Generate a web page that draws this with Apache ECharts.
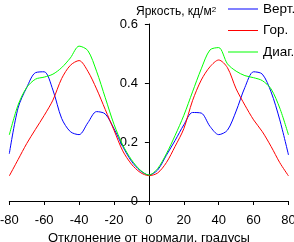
<!DOCTYPE html>
<html>
<head>
<meta charset="utf-8">
<script src="https://cdn.jsdelivr.net/npm/echarts@6/dist/echarts.min.js"></script>
<style>
html, body { margin: 0; padding: 0; background: #fff; }
#main { width: 294px; height: 242px; }
</style>
</head>
<body>
<div id="main"></div>
<script>
// угол отклонения, градусы
var angles = [-80, -75, -70, -65, -60, -55, -50, -45, -40, -35, -30, -25, -20, -15, -10, -5, 0,
              5, 10, 15, 20, 25, 30, 35, 40, 45, 50, 55, 60, 65, 70, 75, 80];

var vert = [0.16, 0.315, 0.385, 0.435, 0.438, 0.376, 0.28, 0.235, 0.225, 0.265, 0.303, 0.295, 0.245, 0.185, 0.135, 0.103, 0.088,
            0.105, 0.155, 0.205, 0.258, 0.3, 0.298, 0.253, 0.225, 0.24, 0.305, 0.385, 0.438, 0.43, 0.37, 0.275, 0.156];

var hor = [0.085, 0.14, 0.195, 0.243, 0.29, 0.342, 0.415, 0.46, 0.476, 0.44, 0.38, 0.31, 0.24, 0.17, 0.125, 0.097, 0.086,
           0.095, 0.13, 0.185, 0.245, 0.34, 0.41, 0.455, 0.478, 0.452, 0.38, 0.325, 0.275, 0.235, 0.185, 0.13, 0.085];

var diag = [0.224, 0.325, 0.385, 0.413, 0.42, 0.43, 0.452, 0.485, 0.525, 0.51, 0.44, 0.35, 0.26, 0.19, 0.14, 0.105, 0.088,
            0.11, 0.16, 0.222, 0.29, 0.37, 0.448, 0.512, 0.52, 0.465, 0.44, 0.425, 0.418, 0.408, 0.38, 0.315, 0.224];

var names = ['Верт.', 'Гор.', 'Диаг.'];
var colors = ['#0000ff', '#ff0000', '#00ff00'];

function pairs(vals) {
    return angles.map(function (a, i) { return [a, vals[i]]; });
}

var chart = echarts.init(document.getElementById('main'));
var font = 'Liberation Sans, Arial, sans-serif';

var gridLeft = 9.3, gridRight = 5.5;
// ось Y стоит на нуле оси X, сдвигаем её на половину ширины сетки
var yShift = (294 - gridLeft - gridRight) / 2;

var option = {
    animation: false,
    color: colors,
    textStyle: { fontFamily: font },
    title: {
        text: 'Яркость, кд/м{sup|2}',
        left: 131,
        top: 1,
        textStyle: {
            fontFamily: font,
            fontSize: 12,
            fontWeight: 'normal',
            color: '#000',
            rich: {
                sup: { fontSize: 8, verticalAlign: 'top', color: '#000' }
            }
        }
    },
    legend: {
        orient: 'vertical',
        left: 223,
        top: -3,
        icon: 'rect',
        itemWidth: 30,
        itemHeight: 1,
        itemGap: 7.5,
        data: names,
        textStyle: { fontFamily: font, fontSize: 13.5, color: '#000' }
    },
    grid: { left: gridLeft, right: gridRight, top: 24, bottom: 41, outerBoundsMode: 'none', containLabel: false },
    xAxis: {
        type: 'value',
        min: -80,
        max: 80,
        interval: 20,
        name: 'Отклонение от нормали, градусы',
        nameLocation: 'middle',
        nameGap: 24,
        nameTextStyle: { fontFamily: font, fontSize: 13, color: '#000' },
        axisLine: { show: true, onZero: false, lineStyle: { color: '#000', width: 1 } },
        axisTick: { show: true, length: 4, lineStyle: { color: '#000' } },
        axisLabel: { show: true, fontFamily: font, fontSize: 13, color: '#000', margin: 13 },
        splitLine: { show: false }
    },
    yAxis: {
        type: 'value',
        min: 0,
        max: 0.6,
        interval: 0.2,
        position: 'left',
        offset: -yShift,
        axisLine: { show: true, onZero: false, lineStyle: { color: '#000', width: 1 } },
        axisTick: { show: true, length: 4, lineStyle: { color: '#000' } },
        axisLabel: { show: true, fontFamily: font, fontSize: 13, color: '#000', margin: 11 },
        splitLine: { show: false }
    },
    series: [
        { name: names[0], type: 'line', smooth: 0.3, symbol: 'none', lineStyle: { width: 1 }, data: pairs(vert) },
        { name: names[1], type: 'line', smooth: 0.3, symbol: 'none', lineStyle: { width: 1 }, data: pairs(hor) },
        { name: names[2], type: 'line', smooth: 0.3, symbol: 'none', lineStyle: { width: 1 }, data: pairs(diag) }
    ]
};

chart.setOption(option);
</script>
</body>
</html>
